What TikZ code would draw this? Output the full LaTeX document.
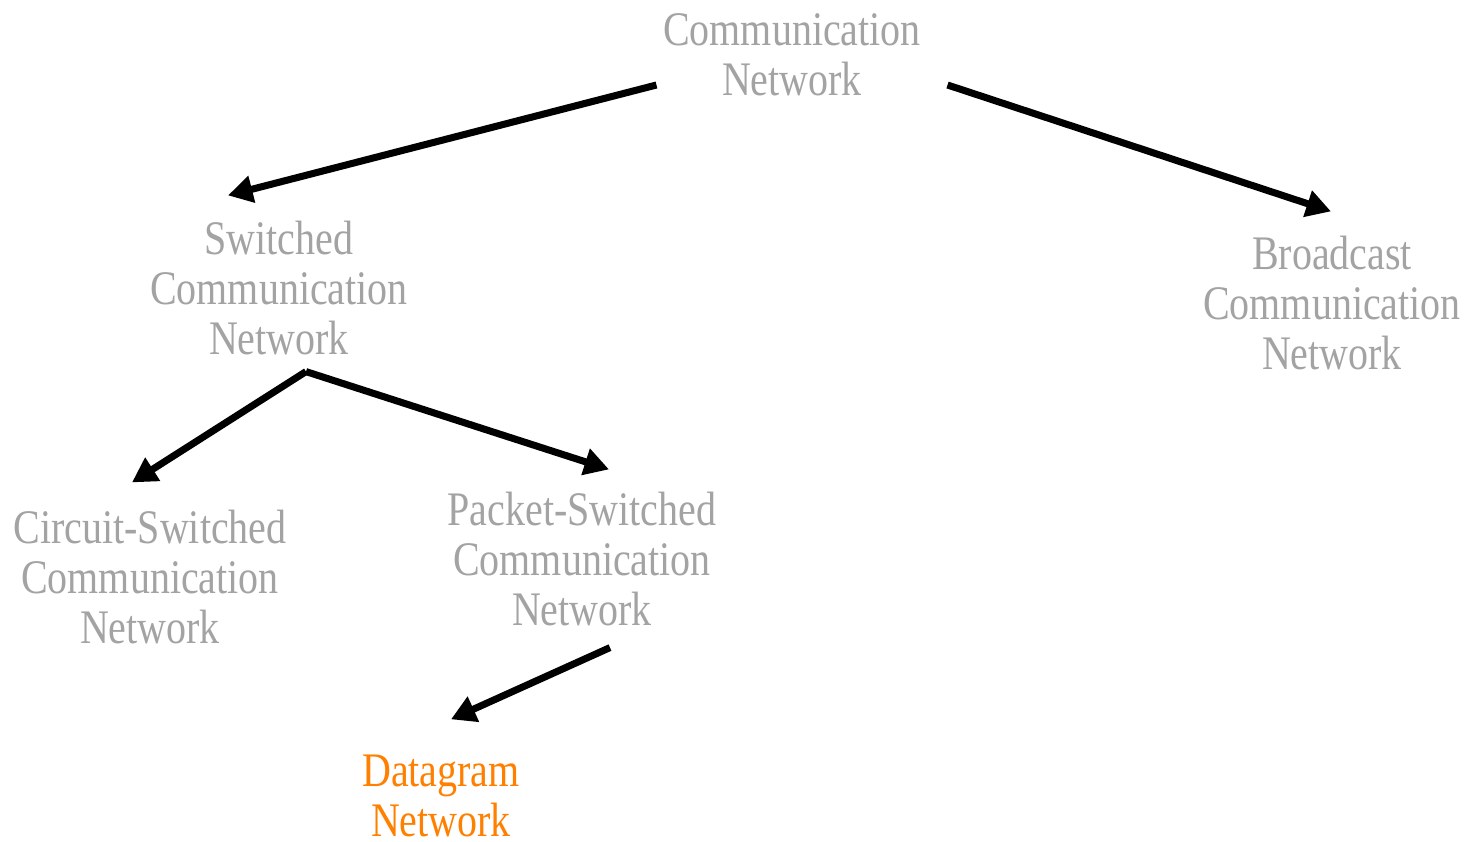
\documentclass[tikz,border=0pt]{standalone}
\usepackage{fontspec}
\setmainfont[FakeStretch=0.83]{Liberation Serif}
\usepackage{tikz}
\usetikzlibrary{arrows.meta, positioning, calc}
\usepackage{xcolor}
\definecolor{termgray}{RGB}{163,163,163}
\definecolor{hlorange}{RGB}{255,128,0}

\begin{document}
\begin{tikzpicture}[
		x=0.01cm, y=-0.01cm,
		every node/.style={font=\fontsize{13.7}{14.2}\selectfont, inner sep=0pt, align=center},
		termnode/.style={text=termgray},
		hlnode/.style={text=hlorange},
		arrowstyle/.style={-{Triangle[length=7pt, width=7.5pt]}, line width=2pt, black}
	]
	\useasboundingbox (0,0) rectangle (1465,842);

	% Network taxonomy nodes
	\node[termnode] (comm) at (792,55) {Communication\\Network};
	\node[termnode] (switched) at (279,288) {Switched\\Communication\\Network};
	\node[termnode] (broadcast) at (1332,303) {Broadcast\\Communication\\Network};
	\node[termnode] (circuit) at (150,577) {Circuit-Switched\\Communication\\Network};
	\node[termnode] (packet) at (582,559) {Packet-Switched\\Communication\\Network};
	\node[hlnode] (datagram) at (441,796) {Datagram\\Network};

	% Top level split
	\draw[arrowstyle] ([shift={(-6,30)}]comm.west) -- ([shift={(-51,-25)}]switched.north);
	\draw[arrowstyle] ([shift={(26,30)}]comm.east) -- ([shift={(-1,-24)}]broadcast.north);

	% Switched split
	\draw[arrowstyle] ([shift={(27,16)}]switched.south) -- ([shift={(-18,-27)}]circuit.north);
	\draw[arrowstyle] ([shift={(27,16)}]switched.south) -- ([shift={(27,-22)}]packet.north);

	% Packet switched down to datagram
	\draw[arrowstyle] ([shift={(28,21)}]packet.south) -- ([shift={(10,-35)}]datagram.north);
\end{tikzpicture}
\end{document}
